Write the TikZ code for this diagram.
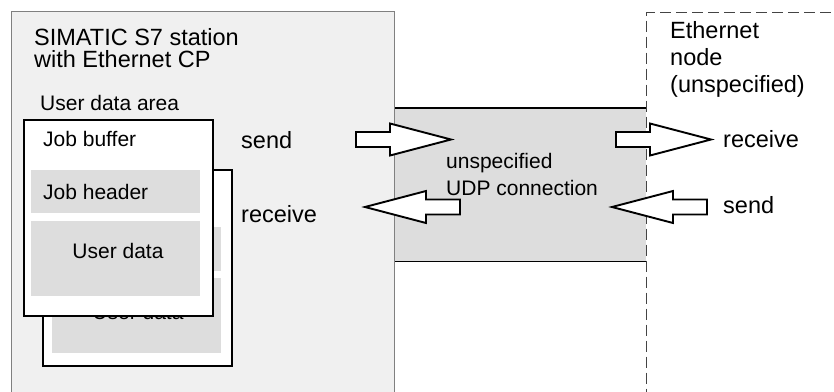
\documentclass[tikz,border=0pt]{standalone}
\usepackage{fontspec}
\setmainfont{Liberation Sans}
\usetikzlibrary{positioning}

\definecolor{stationgray}{HTML}{F0F0F0}
\definecolor{fieldgray}{HTML}{DDDDDD}
\definecolor{framegray}{HTML}{808080}
\definecolor{dashgray}{HTML}{444444}

\begin{document}
\begin{tikzpicture}[
    x=1pt, y=-1pt,
    big/.style={font=\fontsize{23.5}{27}\selectfont, inner sep=0pt},
    small/.style={font=\fontsize{21}{25}\selectfont, inner sep=0pt},
    buffer/.style={draw, fill=white, line width=2.2pt, anchor=north west, minimum width=189pt, minimum height=196pt, inner sep=0pt},
    field/.style={fill=fieldgray, anchor=north west, minimum width=169pt, inner sep=0pt},
    blockarr/.pic={\draw[line width=1.9pt, fill=white] (0,-7.5) -- (34,-7.5) -- (34,-16) -- (95,0) -- (34,16) -- (34,7.5) -- (0,7.5) -- cycle;}
]
    \useasboundingbox (0,0) rectangle (834,391);
    \clip (0,0) rectangle (834,391);

    % Station and partner
    \node[draw=framegray, fill=stationgray, line width=0.8pt, anchor=north west, minimum width=383pt, minimum height=400pt, inner sep=0pt] (station) at (11,11) {};
    \node[fill=fieldgray, anchor=north west, minimum width=251pt, minimum height=153pt, inner sep=0pt] (udp) at (395,108) {};
    \draw[line width=1.8pt] (udp.north west) -- (udp.north east);
    \draw[line width=1.8pt] (udp.south west) -- (udp.south east);
    \node[draw=dashgray, line width=1pt, dash pattern=on 11pt off 5pt, anchor=north west, minimum width=300pt, minimum height=400pt, inner sep=0pt] (partner) at (646,12) {};

    % Job buffers
    \node[buffer] (backbuf) at (42,169) {};
    \node[field, minimum height=44pt] (backhead) at (52,227) {};
    \node[field, minimum height=75pt] (backdata) at (52,278) {};
    \node[small, anchor=base] (backdatatxt) at (138,319) {User data};

    \node[buffer] (frontbuf) at (23,119) {};
    \node[field, minimum height=43pt] (fronthead) at (31,170) {};
    \node[field, minimum height=75pt] (frontdata) at (31,221) {};

    % Block arrows
    \pic (sendout) at (356,139.5) {blockarr};
    \pic (recvin) at (616,139.5) {blockarr};
    \pic[xscale=-1] (recvout) at (460,207) {blockarr};
    \pic[xscale=-1] (sendin) at (707,207) {blockarr};

    % Labels
    \node[big, anchor=base west] (title1) at (34,45) {SIMATIC S7 station};
    \node[big, anchor=base west] (title2) at (34,67) {with Ethernet CP};
    \node[small, anchor=base west] (area) at (40,110) {User data area};
    \node[small, anchor=base west] (jobbuf) at (43,146) {Job buffer};
    \node[small, anchor=base west] (jobhead) at (43,199) {Job header};
    \node[small, anchor=base] (userdata) at (118,258) {User data};

    \node[big, anchor=base west] (sendl) at (241,148) {send};
    \node[big, anchor=base west] (recvl) at (241,222) {receive};
    \node[small, anchor=base west] (udp1) at (446,168) {unspecified};
    \node[small, anchor=base west] (udp2) at (446,195) {UDP connection};

    \node[big, anchor=base west] (eth1) at (670,38) {Ethernet};
    \node[big, anchor=base west] (eth2) at (670,65) {node};
    \node[big, anchor=base west] (eth3) at (670,92) {(unspecified)};
    \node[big, anchor=base west] (recvr) at (723,147) {receive};
    \node[big, anchor=base west] (sendr) at (723,213) {send};

\end{tikzpicture}
\end{document}
